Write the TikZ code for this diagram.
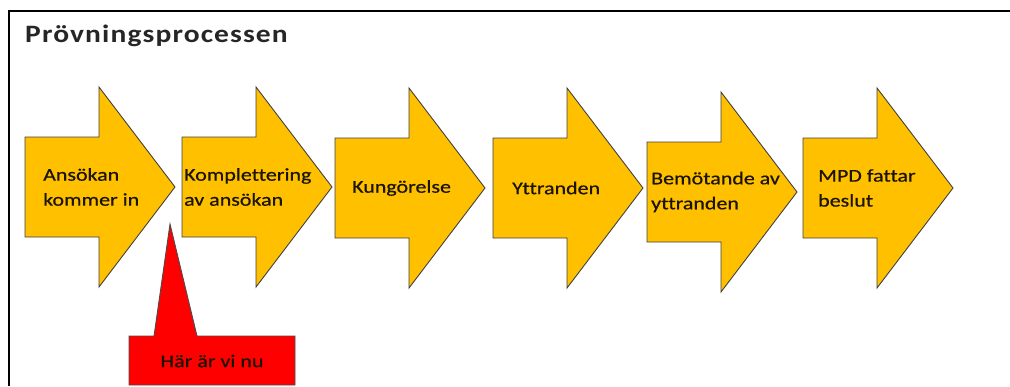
\documentclass[tikz,border=0pt]{standalone}
\usepackage{fontspec}
\setmainfont{Carlito}
\newfontfamily\lblfont[FakeStretch=1.22,FakeBold=0.6,Ligatures=NoCommon]{Carlito}
\newfontfamily\titlefont[FakeStretch=1.18,LetterSpace=4.5,Ligatures=NoCommon]{Carlito Bold}
\definecolor{gold}{HTML}{FFC000}
\definecolor{txt}{HTML}{1A1400}
\tikzset{
  garrowshape/.style={fill=gold, draw=black!75, line width=0.9pt, line join=miter},
  lbl/.style={font=\lblfont\fontsize{18}{25}\selectfont, text=txt, align=left, inner sep=0pt},
  callout/.style={fill=red, draw=black!70, line width=0.9pt},
}
\newcommand{\garrow}[5]{%
  % #1 = x0, #2 = centre y, #3 = name, #4 = text offset, #5 = text
  \draw[garrowshape] (#1,#2-50) -- (#1+74,#2-50) -- (#1+74,#2-100) -- (#1+150,#2)
     -- (#1+74,#2+100) -- (#1+74,#2+50) -- (#1,#2+50) -- cycle;
  \node[lbl, anchor=west] (#3) at (#1+#4,#2) {#5};
}
\begin{document}
\begin{tikzpicture}[x=1pt,y=-1pt]
\useasboundingbox (0,0) rectangle (1010,386);
\draw[line width=1.4pt] (9,386) -- (9,11) -- (1010,11);
\node[anchor=west, inner sep=0pt, font=\titlefont\fontsize{25}{30}\selectfont, text=black!85] (title) at (25,36) {Prövningsprocessen};
\garrow{25}{187}{a1}{18}{Ansökan\\kommer in}
\garrow{182}{187}{a2}{2}{Komplettering\\av ansökan}
\garrow{335}{188}{a3}{17}{Kungörelse}
\garrow{493}{188}{a4}{19}{Yttranden}
\garrow{647}{192}{a5}{4}{Bemötande av\\yttranden}
\garrow{803}{188}{a6}{15}{MPD fattar\\beslut}
\draw[callout] (129,336) -- (154,336) -- (170,224) -- (197,336) -- (295,336) -- (295,385) -- (129,385) -- cycle;
\node[lbl, anchor=center] (here) at (212,361) {Här är vi nu};
\end{tikzpicture}
\end{document}
